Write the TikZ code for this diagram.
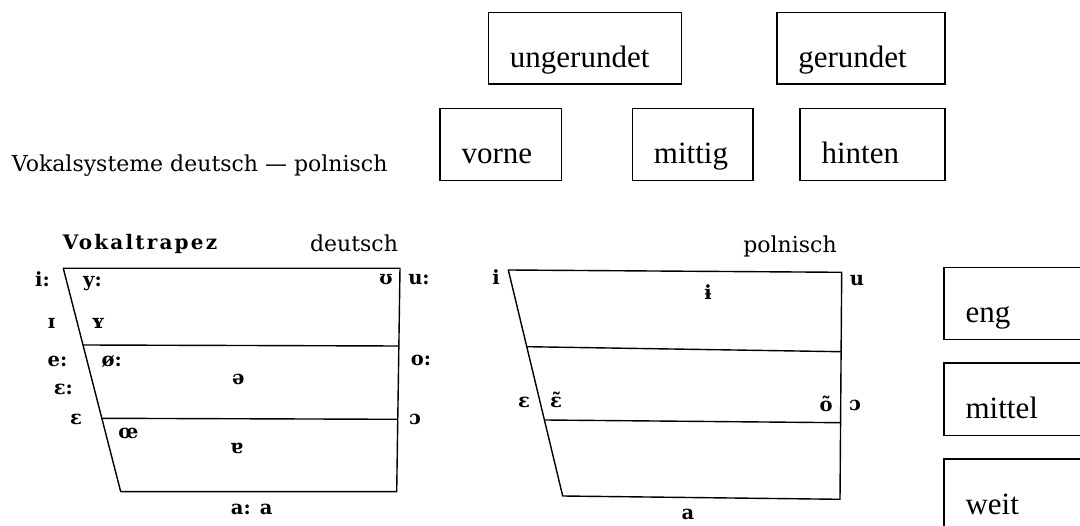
\documentclass[tikz,border=0pt]{standalone}
\usepackage{fontspec}
\setmainfont{Liberation Serif}
\newfontfamily\scanfont{DejaVu Serif}
\newfontfamily\scanspaced[LetterSpace=11]{DejaVu Serif}
\begin{document}
\begin{tikzpicture}[x=1pt,y=-1pt,
  box/.style={draw, line width=1.5pt, anchor=north west, inner xsep=21.5pt, inner ysep=0pt,
    align=left, text height=38pt, text depth=0pt, font=\fontsize{31}{31}\selectfont},
  lab/.style={inner sep=0pt, anchor=base, font=\scanfont\bfseries\fontsize{19.5}{19.5}\selectfont},
  word/.style={inner sep=0pt, anchor=base, font=\scanfont\fontsize{22}{22}\selectfont},
  trap/.style={line width=1.4pt, line cap=round, line join=round}]
\path[use as bounding box, clip] (0,0) rectangle (1080,526);

% boxes
\node[box, minimum width=193pt, minimum height=71.3pt, text width=150pt] (ungerundet) at (487.7,12) {ungerundet};
\node[box, minimum width=168.3pt, minimum height=71.3pt, text width=125.3pt] (gerundet) at (776,12) {gerundet};
\node[box, minimum width=121.4pt, minimum height=72.3pt, text width=78.4pt] (vorne) at (439.3,107.7) {vorne};
\node[box, minimum width=120.6pt, minimum height=72.3pt, text width=77.6pt] (mittig) at (631.7,107.7) {mittig};
\node[box, minimum width=144.7pt, minimum height=72.3pt, text width=101.7pt] (hinten) at (799.3,107.7) {hinten};
\node[box, minimum width=170pt, minimum height=72.3pt, text width=127pt] (eng) at (943.3,266.7) {eng};
\node[box, minimum width=170pt, minimum height=72.3pt, text width=127pt] (mittel) at (943.3,362.3) {mittel};
\node[box, minimum width=170pt, minimum height=72.3pt, text width=127pt] (weit) at (943.3,458.3) {weit};

% title
\node[word, anchor=base west] (title) at (11.7,171.7) {Vokalsysteme deutsch — polnisch};

% German trapezoid
\coordinate (dTL) at (63.3,268.3);
\coordinate (dTR) at (400,268.3);
\coordinate (dBL) at (120.7,491.7);
\coordinate (dBR) at (396.7,491.7);
\coordinate (d2L) at (83.5,345);
\coordinate (d2R) at (398.3,346);
\coordinate (d3L) at (102.5,418.3);
\coordinate (d3R) at (396.9,419.3);
\draw[trap] (dBL) -- (dTL) -- (dTR) -- (dBR) -- cycle;
\draw[trap] (d2L) -- (d2R);
\draw[trap] (d3L) -- (d3R);

\node[lab, font=\scanspaced\bfseries\fontsize{20}{20}\selectfont] (vt) at (140,250) {Vokaltrapez};
\node[word] (deutsch) at (354,251.7) {deutsch};
\node[lab] (iL) at (42.5,287) {i:};
\node[lab] (yL) at (92.5,287) {y:};
\node[lab] (upsL) at (386,285) {ʊ};
\node[lab] (uL) at (419,285) {u:};
\node[lab] (ismL) at (51.7,329) {ɪ};
\node[lab] (ysmL) at (98.3,328.3) {ʏ};
\node[lab] (eL) at (57.5,366.7) {e:};
\node[lab] (oeL) at (111.7,366.7) {ø:};
\node[lab] (schwaL) at (238.3,385) {ə};
\node[lab] (oL) at (421,366) {o:};
\node[lab] (epslongL) at (63.3,395) {ɛ:};
\node[lab] (epsL) at (76,425) {ɛ};
\node[lab] (openoL) at (415,425) {ɔ};
\node[lab] (oeligL) at (128.3,438.3) {œ};
\node[lab] (turnedaL) at (236.7,453.3) {ɐ};
\node[lab] (aL) at (251.7,515) {a: a};

% Polish trapezoid
\coordinate (pTL) at (508.3,270);
\coordinate (pTR) at (841.7,272.3);
\coordinate (pBL) at (562.7,496);
\coordinate (pBR) at (840,499.3);
\coordinate (p2L) at (526.9,346.7);
\coordinate (p2R) at (840.7,351.7);
\coordinate (p3L) at (545,420);
\coordinate (p3R) at (840.2,422.7);
\draw[trap] (pBL) -- (pTL) -- (pTR) -- (pBR) -- cycle;
\draw[trap] (p2L) -- (p2R);
\draw[trap] (p3L) -- (p3R);

\node[word] (polnisch) at (790,253) {polnisch};
\node[lab] (piL) at (496,285) {i};
\node[lab] (pbariL) at (708,300) {ɨ};
\node[lab] (pupuL) at (857,286) {u};
\node[lab] (pepsL) at (524,408) {ɛ};
\node[lab] (pepsnL) at (556,408) {ɛ̃};
\node[lab] (ponL) at (826,411.7) {õ};
\node[lab] (popenoL) at (855,411) {ɔ};
\node[lab] (paL) at (688,520) {a};
\end{tikzpicture}
\end{document}
